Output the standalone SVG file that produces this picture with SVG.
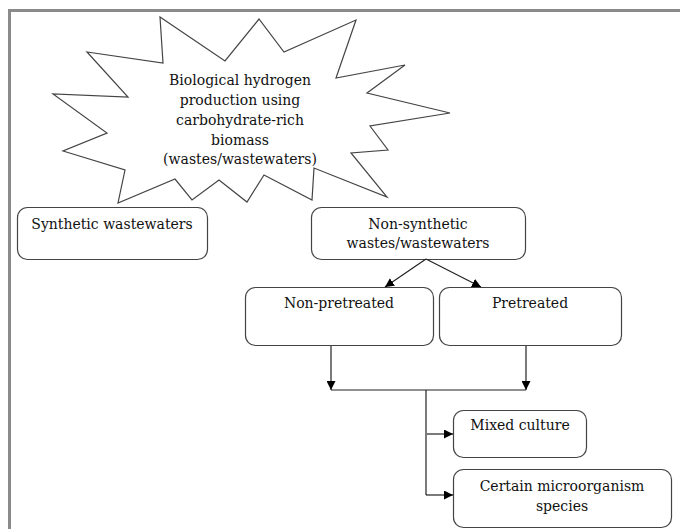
<svg xmlns="http://www.w3.org/2000/svg" width="680" height="529" viewBox="0 0 680 529">
<style>
.t{font-family:'DejaVu Serif',serif;font-size:14px;fill:#111;text-anchor:middle}
.box{fill:#fff;stroke:#444;stroke-width:1.2}
.ln{fill:none;stroke:#222;stroke-width:1.2}
.frame{fill:none;stroke:#8a8a8a;stroke-width:3}
</style>
<defs>
<marker id="ah" viewBox="0 0 10 10" refX="10" refY="5" markerWidth="9" markerHeight="9" markerUnits="userSpaceOnUse" orient="auto">
<path d="M0,0 L10,5 L0,10 Z" fill="#000"/>
</marker>
</defs>
<rect width="680" height="529" fill="#fff"/>
<path class="frame" d="M9.5,529 L9.5,10.5 L680,10.5"/>
<g id="burst">
<polygon points="160,17 225,61 259,19 284,52 356,20 336,78 405,65 367,93 450,113 370,126 388,150 351,153 387,197 314,168 312,200 264,175 247,202 219,180 192,200 175,179 118,203 125,170 63,151 107,133 53,94 128,97 87,52 163,63" fill="#fff" stroke="#444" stroke-width="1.2"/>
<text class="t" x="240" y="85">Biological hydrogen</text>
<text class="t" x="240" y="105">production using</text>
<text class="t" x="240" y="125">carbohydrate-rich</text>
<text class="t" x="240" y="145">biomass</text>
<text class="t" x="240" y="164">(wastes/wastewaters)</text>
</g>
<g id="synthetic">
<rect class="box" x="17.5" y="207.5" width="190" height="52" rx="10"/>
<text class="t" x="112" y="229">Synthetic wastewaters</text>
</g>
<g id="nonsynthetic">
<rect class="box" x="311.5" y="207.5" width="214" height="52" rx="10"/>
<text class="t" x="418" y="229">Non-synthetic</text>
<text class="t" x="418" y="248">wastes/wastewaters</text>
</g>
<g id="nonpretreated">
<rect class="box" x="245.5" y="287.5" width="188" height="58" rx="10"/>
<text class="t" x="339" y="308">Non-pretreated</text>
</g>
<g id="pretreated">
<rect class="box" x="439.5" y="287.5" width="182" height="58" rx="10"/>
<text class="t" x="530" y="308">Pretreated</text>
</g>
<g id="mixed">
<rect class="box" x="453.5" y="410.5" width="133" height="47" rx="10"/>
<text class="t" x="520" y="430">Mixed culture</text>
</g>
<g id="certain">
<rect class="box" x="453.5" y="469.5" width="218" height="58" rx="10"/>
<text class="t" x="562" y="491">Certain microorganism</text>
<text class="t" x="562" y="511">species</text>
</g>
<g id="connectors">
<line class="ln" x1="426" y1="259" x2="385" y2="287" marker-end="url(#ah)"/>
<line class="ln" x1="426" y1="259" x2="481" y2="287" marker-end="url(#ah)"/>
<line class="ln" x1="331" y1="346" x2="331" y2="390" marker-end="url(#ah)"/>
<line class="ln" x1="526" y1="346" x2="526" y2="390" marker-end="url(#ah)"/>
<line class="ln" x1="331" y1="390" x2="526" y2="390"/>
<line class="ln" x1="426" y1="390" x2="426" y2="495"/>
<line class="ln" x1="427" y1="434" x2="453" y2="434" marker-end="url(#ah)"/>
<line class="ln" x1="426" y1="495" x2="453" y2="495" marker-end="url(#ah)"/>
</g>
</svg>
